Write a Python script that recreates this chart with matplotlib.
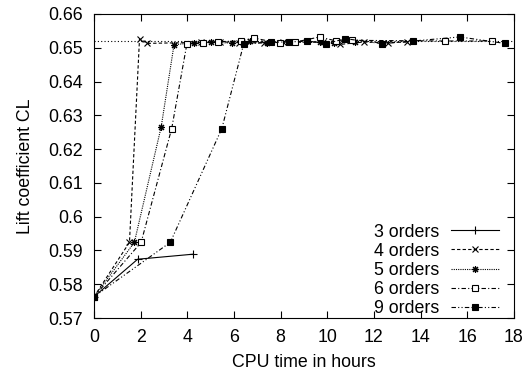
import matplotlib
matplotlib.use('Agg')
import matplotlib.pyplot as plt

plt.rcParams['font.family'] = ['Liberation Sans', 'DejaVu Sans']
plt.rcParams['font.size'] = 12.8

# converged reference value
cl_ref = 0.652

t3 = [0, 1.87, 4.26]
cl3 = [0.5763, 0.5874, 0.5889]

t4 = [0, 1.52, 1.95, 2.29, 4.6, 5.4, 6.2, 7.27, 8.1, 9.81, 10.56, 11.56, 12.6, 13.42]
cl4 = [0.5763, 0.5924, 0.6526, 0.6513, 0.6516, 0.6518, 0.6515, 0.6515, 0.6516, 0.6517, 0.6510, 0.6517, 0.6515, 0.6517]

t5 = [0, 1.73, 2.88, 3.43, 4.3, 5.0, 5.9, 6.7, 7.4, 8.6, 9.7, 10.3, 11.2]
cl5 = [0.5763, 0.5924, 0.6266, 0.6509, 0.6515, 0.6516, 0.6514, 0.6519, 0.6515, 0.6518, 0.6516, 0.6514, 0.6517]

t6 = [0, 2.02, 3.33, 3.98, 4.69, 5.3, 6.3, 6.84, 7.98, 8.63, 9.67, 10.39, 11.06, 15.06, 17.07]
cl6 = [0.5763, 0.5924, 0.6261, 0.6511, 0.6514, 0.6518, 0.6520, 0.6529, 0.6513, 0.6517, 0.6532, 0.6520, 0.6522, 0.6520, 0.6520]

t9 = [0, 3.27, 5.48, 6.41, 7.58, 8.34, 9.15, 9.96, 10.77, 12.35, 13.68, 15.68, 17.6]
cl9 = [0.5763, 0.5924, 0.6261, 0.6510, 0.6517, 0.6517, 0.6520, 0.6512, 0.6527, 0.6512, 0.6520, 0.6532, 0.6513]

fig = plt.figure(figsize=(5.29, 3.78), dpi=100)
ax = fig.add_axes([0.1777, 0.1587, 0.9716 - 0.1777, 0.963 - 0.1587])

lw = 0.8
ax.plot([0, 18], [cl_ref, cl_ref], color='black', lw=lw, ls=(0, (1, 2)))
ax.plot(t3, cl3, color='black', lw=lw, ls='-', marker='+', ms=6, mew=lw, label='3 orders')
ax.plot(t4, cl4, color='black', lw=lw, ls=(0, (3, 2)), marker='x', ms=4, mew=lw, label='4 orders')
ax.plot(t5, cl5, color='black', lw=lw, ls=(0, (1, 1)), marker=(8, 2, 0), ms=5, mew=lw, label='5 orders')
ax.plot(t6, cl6, color='black', lw=lw, ls=(0, (4, 2, 1, 2)), marker='s', ms=4, mfc='white', mew=lw, label='6 orders')
ax.plot(t9, cl9, color='black', lw=lw, ls=(0, (4, 2, 1, 2, 1, 2)), marker='s', ms=4, mfc='black', mew=lw, label='9 orders')

ax.set_xlim(0, 18)
ax.set_ylim(0.57, 0.66)
ax.set_xticks(range(0, 19, 2))
ax.set_yticks([0.57, 0.58, 0.59, 0.6, 0.61, 0.62, 0.63, 0.64, 0.65, 0.66])
ax.set_yticklabels(['0.57', '0.58', '0.59', '0.6', '0.61', '0.62', '0.63', '0.64', '0.65', '0.66'])
ax.tick_params(direction='in', top=True, right=True, length=5, width=0.8, pad=8)
ax.set_xlabel('CPU time in hours', labelpad=6)
ax.set_ylabel('Lift coefficient CL', labelpad=10)

leg = ax.legend(loc='lower right', bbox_to_anchor=(0.965, 0.003), frameon=False,
                markerfirst=False, numpoints=1, handlelength=2.7, labelspacing=0.12,
                handletextpad=0.65, borderaxespad=0, borderpad=0)

fig.savefig('out.png', dpi=100)
